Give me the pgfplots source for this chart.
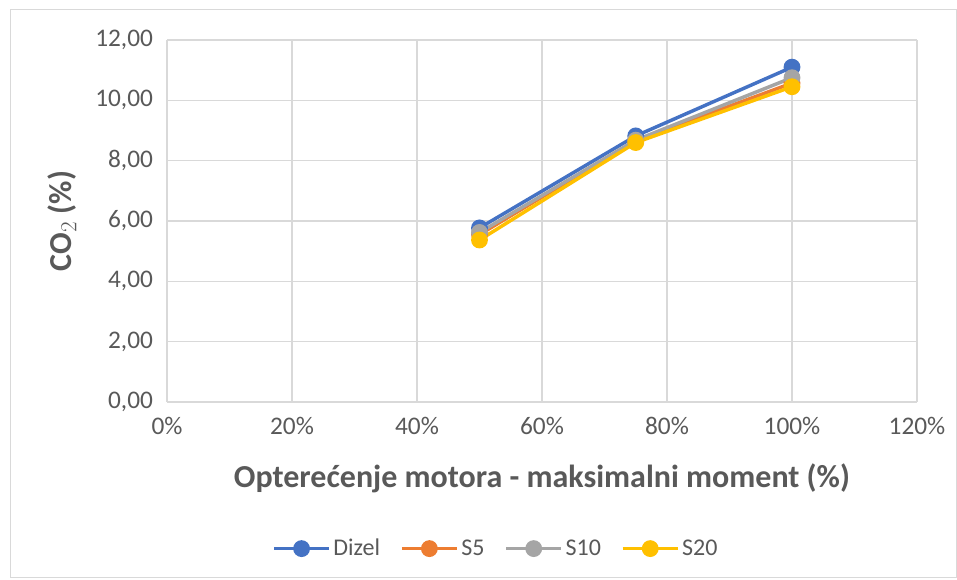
\documentclass[border=0pt]{standalone}
\usepackage{pgfplots}
\pgfplotsset{compat=1.18}
\usepackage{fontspec}
\setmainfont{Carlito}
\definecolor{cDizel}{RGB}{68,114,196}
\definecolor{cS5}{RGB}{237,125,49}
\definecolor{cS10}{RGB}{165,165,165}
\definecolor{cS20}{RGB}{255,192,0}
\definecolor{tickgray}{RGB}{89,89,89}
\definecolor{gridgray}{RGB}{217,217,217}
\begin{document}
\begin{tikzpicture}
\path[use as bounding box] (0pt,0pt) rectangle (717.75pt,435pt);
\draw[gridgray, line width=0.75pt] (7.5pt,1.5pt) rectangle (717pt,427.5pt);
\begin{axis}[
  at={(125.25pt,133.5pt)}, anchor=south west,
  scale only axis, width=562.5pt, height=271.5pt,
  xmin=0, xmax=120, ymin=0, ymax=12,
  xtick={0,20,...,120}, ytick={0,2,...,12},
  xticklabel={\pgfmathprintnumber{\tick}\%},
  /pgf/number format/assume math mode=true,
  ticklabel style={font=\fontsize{19}{22}\selectfont, text=tickgray},
  yticklabel style={xshift=-7pt, /pgf/number format/.cd, fixed, fixed zerofill, precision=2, use comma, 1000 sep={}},
  xticklabel style={yshift=-8pt},
  major tick length=0pt,
  axis line style={draw=none},
  grid=major, grid style={gridgray, line width=0.9pt},
  xlabel={Opterećenje motora - maksimalni moment (\%)},
  ylabel={CO$_2$ (\%)},
  label style={font=\bfseries\fontsize{24}{28}\selectfont, text=tickgray},
  xlabel style={at={(axis description cs:0.5,-0.21)}, anchor=center},
  ylabel style={at={(axis description cs:-0.14,0.5)}, anchor=center},
  legend style={at={(0.439,-0.405)}, anchor=center, draw=none, fill=none,
    legend columns=4, font=\fontsize{18}{21}\selectfont, text=tickgray,
    /tikz/every even column/.append style={column sep=13pt}},
  legend image code/.code={
    \draw[#1, mark=none] (0cm,0cm) -- (1.45cm,0cm);
    \draw[#1, only marks] plot coordinates {(0.725cm,0cm)};
  },
  every axis plot/.append style={line width=2.6pt, mark=*, mark size=5pt},
]
\addplot[color=cDizel, mark options={fill=cDizel}] coordinates {(50,5.77) (75,8.82) (100,11.10)};
\addlegendentry{Dizel}
\addplot[color=cS5, mark options={fill=cS5}] coordinates {(50,5.55) (75,8.66) (100,10.57)};
\addlegendentry{S5}
\addplot[color=cS10, mark options={fill=cS10}] coordinates {(50,5.62) (75,8.68) (100,10.75)};
\addlegendentry{S10}
\addplot[color=cS20, mark options={fill=cS20}] coordinates {(50,5.37) (75,8.60) (100,10.45)};
\addlegendentry{S20}
\end{axis}
\end{tikzpicture}
\end{document}
